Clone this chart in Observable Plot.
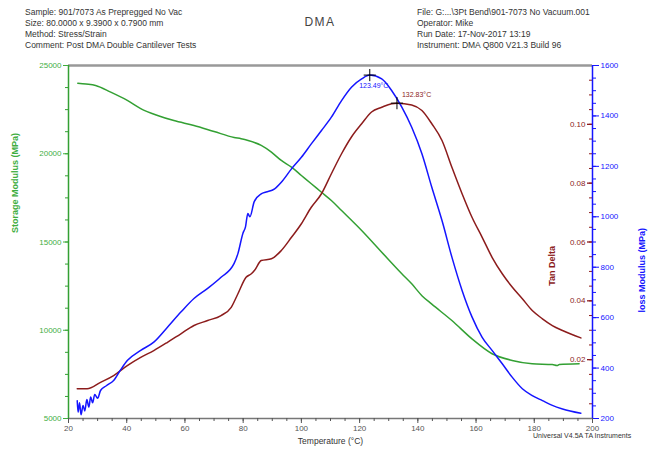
<!DOCTYPE html>
<html>
<head>
<meta charset="utf-8">
<script src="https://cdn.jsdelivr.net/npm/d3@7"></script>
<script src="https://cdn.jsdelivr.net/npm/@observablehq/plot@0.6"></script>
<style>
  body { margin: 0; background: #fff; font-family: "Liberation Sans", Arial, sans-serif; }
  #wrap { position: relative; width: 648px; height: 455px; overflow: hidden; }
  .hdr { position: absolute; font-size: 8.5px; line-height: 11px; color: #333; white-space: nowrap; }
  #title { position: absolute; left: 0; width: 640px; top: 15px; text-align: center; font-size: 12px; letter-spacing: 1.5px; color: #444; }
  #ta { position: absolute; left: 533px; top: 432px; font-size: 7px; color: #333; white-space: nowrap; }
  #chart { position: absolute; left: 0; top: 50px; }
</style>
</head>
<body>
<div id="wrap">
  <div class="hdr" id="hl" style="left:25px; top:7px;"></div>
  <div id="title"></div>
  <div class="hdr" id="hr" style="left:417px; top:7px;"></div>
  <div id="chart"></div>
  <div id="ta"></div>
</div>
<script>
// ---- Header texts ----
const headerLeft = [
  "Sample: 901/7073 As Prepregged No Vac",
  "Size:  80.0000 x 9.3900 x 0.7900 mm",
  "Method: Stress/Strain",
  "Comment: Post DMA Double Cantilever Tests"
];
const headerRight = [
  "File: G:...\\3Pt Bend\\901-7073 No Vacuum.001",
  "Operator: Mike",
  "Run Date: 17-Nov-2017 13:19",
  "Instrument: DMA Q800 V21.3 Build 96"
];
const titleText = "DMA";
const footerText = "Universal V4.5A TA Instruments";

// ---- Storage modulus (MPa) ----
const smTemp = [23.2, 26, 29.3, 34.5, 40.2, 44.8, 50.6, 56.2, 63.1, 70.0, 76.9, 79.3, 81.7, 86.2, 89.7, 93.1, 96.6, 100, 103.4, 106.9, 110.3, 113.8, 120.7, 127.6, 134.5, 137.9, 141.4, 144.8, 151.7, 158.6, 165.5, 172.4, 179.3, 186.2, 187.8, 188.6, 195.4];
const smVal  = [24000, 23950, 23870, 23490, 23020, 22560, 22170, 21880, 21600, 21260, 20920, 20850, 20750, 20470, 20090, 19620, 19240, 18770, 18300, 17820, 17350, 16780, 15650, 14420, 13200, 12630, 11960, 11480, 10550, 9510, 8670, 8290, 8100, 8060, 8000, 8060, 8100];

// ---- Loss modulus (MPa) ----
const lmTemp = [23, 23.3, 23.8, 24.3, 25, 25.6, 26.3, 27, 27.6, 28.3, 29, 30, 31, 33, 35.5, 38, 40.2, 44.8, 49.3, 54, 58.6, 63.1, 67.8, 72.4, 76.9, 78.2, 79.9, 80.8, 81.6, 82.3, 83.8, 86.2, 87.9, 90.8, 93.1, 96.6, 100, 103.4, 106.9, 110.3, 113.8, 117.2, 120.7, 123.49, 127.6, 131, 134.5, 137.9, 141.4, 144.8, 148.3, 151.7, 155.2, 158.6, 162.1, 165.5, 169, 172.4, 175.9, 179.3, 182.8, 186.2, 189.7, 196];
const lmVal  = [270, 225, 262, 215, 252, 230, 275, 245, 285, 262, 295, 280, 311, 330, 351, 395, 430, 470, 503, 562, 622, 676, 716, 760, 815, 854, 934, 960, 1013, 1000, 1060, 1091, 1098, 1111, 1137, 1190, 1236, 1289, 1342, 1395, 1461, 1514, 1547, 1562, 1547, 1501, 1435, 1355, 1250, 1117, 985, 840, 708, 603, 522, 470, 417, 364, 318, 291, 271, 252, 238, 221];

// ---- Tan delta ----
const tdTemp = [23, 26.4, 31, 35.5, 40.2, 44.8, 49.3, 54, 58.6, 63.1, 67.8, 72.4, 75.9, 78.2, 81, 82.8, 84, 86.2, 89.7, 93.1, 96.6, 100, 103.4, 106.9, 110.3, 113.8, 117.2, 120.7, 124.1, 127.6, 131, 132.83, 137.9, 141.4, 144.8, 148.3, 151.7, 155.2, 158.6, 162.1, 165.5, 169, 172.4, 175.9, 179.3, 182.8, 186.2, 189.7, 196];
const tdVal  = [0.0101, 0.0101, 0.0123, 0.0146, 0.0180, 0.0208, 0.0231, 0.0259, 0.0288, 0.0316, 0.0333, 0.0350, 0.0378, 0.0424, 0.0480, 0.0492, 0.0505, 0.0537, 0.0543, 0.0571, 0.0616, 0.0662, 0.0718, 0.0764, 0.0832, 0.0900, 0.0957, 0.1002, 0.1042, 0.1058, 0.1070, 0.1072, 0.1066, 0.1047, 0.1002, 0.0945, 0.0854, 0.0764, 0.0684, 0.0616, 0.0548, 0.0492, 0.0447, 0.0407, 0.0367, 0.0339, 0.0316, 0.0299, 0.0274];

// ---- Peaks ----
const peakLabels = ["123.49°C", "132.83°C"];
const lmPeak = {t: 123.49, v: 1562};
const tdPeak = {t: 132.83, v: 0.1072};

// ---- Ticks ----
const xMajor = d3.range(20, 201, 20);
const xMinor = d3.range(20, 201, 5);
const smMajor = d3.range(5000, 25001, 5000);
const smMinor = d3.range(5000, 25001, 1250);
const lmMajor = d3.range(200, 1601, 200);
const lmMinor = d3.range(200, 1601, 50);
const tdMajor = [0.02, 0.04, 0.06, 0.08, 0.10];
const tdMinor = d3.range(1, 24).map(i => i * 0.005);

// ---- Axis ranges (secondary axes mapped onto primary y scale) ----
const xDomain = [20, 200];
const smDomain = [5000, 25000];
const lmDomain = [200, 1600];
const tdDomain = [0, 0.12];
const lmToY = v => smDomain[0] + (v - lmDomain[0]) * (smDomain[1] - smDomain[0]) / (lmDomain[1] - lmDomain[0]);
const yToLm = y => lmDomain[0] + (y - smDomain[0]) * (lmDomain[1] - lmDomain[0]) / (smDomain[1] - smDomain[0]);
const tdToY = v => smDomain[0] + (v - tdDomain[0]) * (smDomain[1] - smDomain[0]) / (tdDomain[1] - tdDomain[0]);

const green = "#33a033", greenText = "#3fae3f", blue = "#1515ff", red = "#8c1c1c", gray = "#555";

document.getElementById("hl").innerHTML = headerLeft.join("<br>");
document.getElementById("hr").innerHTML = headerRight.join("<br>");
document.getElementById("title").textContent = titleText;
document.getElementById("ta").textContent = footerText;

const smData = smTemp.map((t, i) => ({t, y: smVal[i]}));
const lmData = lmTemp.map((t, i) => ({t, y: lmToY(lmVal[i])}));
const tdData = tdTemp.map((t, i) => ({t, y: tdToY(tdVal[i])}));
const peaks = [
  {t: lmPeak.t, y: lmToY(lmPeak.v), label: peakLabels[0], color: blue},
  {t: tdPeak.t, y: tdToY(tdPeak.v), label: peakLabels[1], color: red}
];
const tdMajorData = tdMajor.map(v => ({t: xDomain[1], y: tdToY(v), label: d3.format(".2f")(v)}));
const tdMinorData = tdMinor.map(v => ({y: tdToY(v)}));

const W = 648, H = 405, mL = 68, mR = 56, mT = 15, mB = 37;
const frameW = W - mL - mR;

const chart = Plot.plot({
  width: W, height: H,
  marginLeft: mL, marginRight: mR, marginTop: mT, marginBottom: mB,
  style: {fontFamily: "Liberation Sans, Arial, sans-serif", fontSize: "8px", background: "#fff"},
  x: {domain: xDomain},
  y: {domain: smDomain},
  marks: [
    // frame lines
    Plot.ruleY([smDomain[1]], {stroke: "#999", strokeWidth: 2.5}),
    Plot.ruleY([smDomain[0]], {stroke: "#777", strokeWidth: 1.5}),
    Plot.ruleX([xDomain[0]], {stroke: green, strokeWidth: 1.5}),
    // x axis
    Plot.axisX(xMinor, {tickSize: 3, tickFormat: () => "", color: gray, label: null}),
    Plot.axisX(xMajor, {tickSize: 5, tickPadding: 2, color: gray, label: null}),
    // storage modulus axis (left)
    Plot.axisY(smMinor, {anchor: "left", tickSize: 3, tickFormat: () => "", color: green, label: null}),
    Plot.axisY(smMajor, {anchor: "left", tickSize: 5, tickPadding: 2, color: greenText, label: null, tickFormat: d => String(d)}),
    // loss modulus axis (right)
    Plot.axisY(lmMinor.map(lmToY), {anchor: "right", tickSize: 3, tickFormat: () => "", color: blue, label: null}),
    Plot.axisY(lmMajor.map(lmToY), {anchor: "right", tickSize: 6, tickPadding: 2, color: blue, label: null, tickFormat: y => String(Math.round(yToLm(y)))}),
    // tan delta axis (inside, on right frame line, ticks pointing left)
    Plot.tickY(tdMinorData, {y: "y", insetLeft: frameW - 3, stroke: red, strokeWidth: 1}),
    Plot.tickY(tdMajorData, {y: "y", insetLeft: frameW - 5, stroke: red, strokeWidth: 1.3}),
    Plot.text(tdMajorData, {x: "t", y: "y", text: "label", textAnchor: "end", dx: -7, fill: red, fontSize: 8}),
    Plot.ruleX([xDomain[1]], {stroke: blue, strokeWidth: 1.5}),
    // axis titles
    Plot.text(["Storage Modulus (MPa)"], {frameAnchor: "left", dx: -53, dy: -9, rotate: -90, fill: greenText, fontSize: 9, fontWeight: "bold"}),
    Plot.text(["Tan Delta"], {frameAnchor: "right", dx: -40, dy: 4, rotate: -90, fill: red, fontSize: 9, fontWeight: "bold"}),
    Plot.text(["loss Modulus (MPa)"], {frameAnchor: "right", dx: 50, dy: -14, rotate: -90, fill: blue, fontSize: 9, fontWeight: "bold"}),
    Plot.text(["Temperature (°C)"], {frameAnchor: "bottom", dy: 25, fill: "#333", fontSize: 8.5, letterSpacing: 0.5}),
    // curves
    Plot.line(smData, {x: "t", y: "y", stroke: green, strokeWidth: 1.5, curve: "monotone-x"}),
    Plot.line(tdData, {x: "t", y: "y", stroke: red, strokeWidth: 1.5, curve: "monotone-x"}),
    Plot.line(lmData, {x: "t", y: "y", stroke: blue, strokeWidth: 1.5, curve: "monotone-x"}),
    // peak markers
    Plot.dot(peaks, {x: "t", y: "y", symbol: "plus", r: 4, stroke: "#000", strokeWidth: 1}),
    Plot.text([peaks[0]], {x: "t", y: "y", text: "label", fill: blue, fontSize: 7, dx: 4, dy: 11}),
    Plot.text([peaks[1]], {x: "t", y: "y", text: "label", fill: red, fontSize: 7, dx: 5, dy: -8, textAnchor: "start"})
  ]
});
document.getElementById("chart").appendChild(chart);
</script>
</body>
</html>
